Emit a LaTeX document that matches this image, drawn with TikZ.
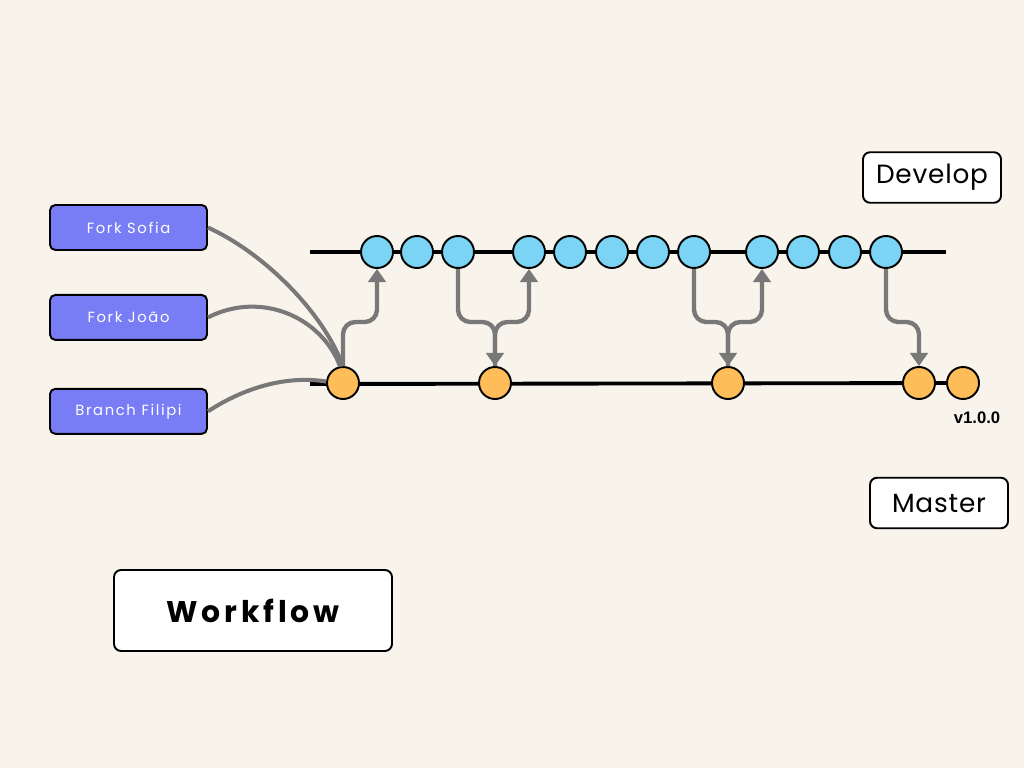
\documentclass[tikz,border=0pt]{standalone}
\usepackage{fontspec}
\setmainfont{Poppins}
\newfontfamily\boxfont[LetterSpace=11]{Poppins}
\newfontfamily\headfont[LetterSpace=3]{Poppins}
\newfontfamily\flowfont[LetterSpace=13]{Poppins}
\newfontfamily\tagfont{Liberation Sans}
\usetikzlibrary{calc,positioning,arrows.meta}

\definecolor{paper}{RGB}{248,244,236}
\definecolor{devblue}{RGB}{124,212,244}
\definecolor{masorange}{RGB}{255,189,89}
\definecolor{boxblue}{RGB}{121,125,245}
\definecolor{arrowgray}{RGB}{120,120,120}

\begin{document}
\begin{tikzpicture}[x=0.02cm,y=-0.02cm,
  commit/.style={circle,draw=black,line width=1.1pt,minimum size=0.64cm,inner sep=0pt},
  dev/.style={commit,fill=devblue},
  mas/.style={commit,fill=masorange},
  branchbox/.style={draw=black,line width=1.1pt,fill=boxblue,rounded corners=3pt,
    minimum width=3.14cm,minimum height=0.9cm,text=white,font=\boxfont\fontsize{8.4}{10}\selectfont},
  titlebox/.style={draw=black,line width=1.1pt,fill=white,rounded corners=4pt,
    minimum width=2.76cm,minimum height=1.01cm,font=\headfont\fontsize{15}{18}\selectfont},
  branchline/.style={line width=2.2pt,black},
  merge/.style={arrowgray,line width=2.5pt,rounded corners=7pt,-{Triangle[width=10pt,length=7.5pt]}},
  link/.style={arrowgray,line width=2.3pt}]

 % background
 \fill[paper] (0,0) rectangle (1024,768);
 \useasboundingbox (0,0) rectangle (1024,768);

 \coordinate (devstart) at (310,252);
 \coordinate (devend) at (946,252);
 \coordinate (masstart) at (310,384);
 \coordinate (bend) at (0,322);

    % draw branches
    \draw[branchline] (devstart) -- (devend);
    \draw[branchline] (masstart) -- (963,383);

    % develop commits
    \foreach \x [count=\i] in {377,417,458,529,570,612,653,694,762,803,845,886}
      \node[dev] (d\i) at (\x,252) {};

    % master commits
    \foreach \x [count=\i] in {343,495,728,919,963}
      \node[mas] (m\i) at (\x,383) {};

    % labels
    \node[titlebox] (develop) at (932,177.5) {\raisebox{-1.5pt}{Develop}};
    \node[titlebox] (master) at (939,503) {\raisebox{-1.5pt}{Master}};
    \node[titlebox,minimum width=5.56cm,minimum height=1.62cm,
      font=\flowfont\fontsize{17}{20}\selectfont\bfseries] (workflow) at (253,610.5) {\raisebox{-1pt}{Workflow}};
    \node[font=\tagfont\fontsize{9.5}{11}\selectfont\bfseries] (tag) at (977,418) {v1.0.0};

    % forks and branches
    \node[branchbox] (sofia) at (128.5,227.5) {Fork Sofia};
    \node[branchbox,below=0.86cm of sofia] (joao) {Fork João};
    \node[branchbox,below=0.94cm of joao] (filipi) {Branch Filipi};

    \draw[link] (sofia.east) .. controls (262,252) and (322,310) .. (m1.north);
    \draw[link] (joao.east) .. controls (262,290) and (322,318) .. (m1.100);
    \draw[link] (filipi.east) .. controls (250,384) and (292,376) .. (m1.175);

    % merges between develop and master
    \draw[merge] (m1.north) -- (m1.north |- bend) -- (d1.south |- bend) -- (d1.south);
    \draw[merge] (d3.south) -- (d3.south |- bend) -- (m2.north |- bend) -- (m2.north);
    \draw[merge] (m2.north) -- (m2.north |- bend) -- (d4.south |- bend) -- (d4.south);
    \draw[merge] (d8.south) -- (d8.south |- bend) -- (m3.north |- bend) -- (m3.north);
    \draw[merge] (m3.north) -- (m3.north |- bend) -- (d9.south |- bend) -- (d9.south);
    \draw[merge] (d12.south) -- (d12.south |- bend) -- (m4.north |- bend) -- (m4.north);

\end{tikzpicture}
\end{document}
